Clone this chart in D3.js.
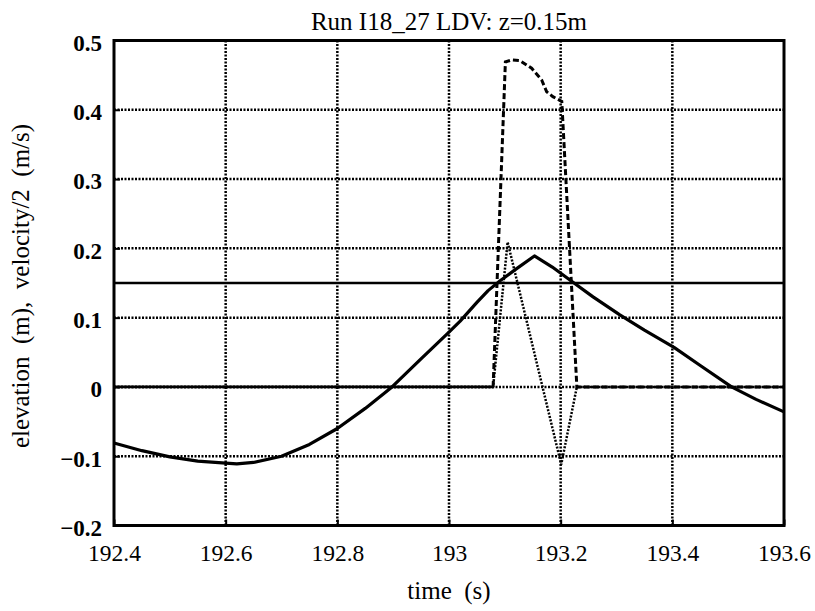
<!DOCTYPE html>
<html>
<head>
<meta charset="utf-8">
<script src="https://cdn.jsdelivr.net/npm/d3@7"></script>
<style>
  html, body { margin: 0; padding: 0; background: #fff; }
  svg { display: block; }
  text { font-family: "Liberation Serif", "DejaVu Serif", serif; fill: #000; }
</style>
</head>
<body>
<svg id="chart" width="815" height="611"></svg>
<script>
// Free-surface elevation (m) against time (s)
const elevTime = [192.40, 192.45, 192.50, 192.55, 192.60, 192.62, 192.65, 192.70, 192.75, 192.80, 192.85, 192.898, 192.948, 193.00, 193.02, 193.05, 193.07, 193.091, 193.118, 193.153, 193.185, 193.219, 193.258, 193.306, 193.35, 193.403, 193.45, 193.506, 193.55, 193.60];
const elevation = [-0.081, -0.092, -0.101, -0.107, -0.110, -0.111, -0.109, -0.100, -0.083, -0.060, -0.031, 0.000, 0.039, 0.079, 0.095, 0.122, 0.139, 0.153, 0.169, 0.189, 0.173, 0.153, 0.130, 0.104, 0.082, 0.057, 0.031, 0.000, -0.018, -0.036];

// Probe level z = 0.15 m
const probeTime = [192.4, 193.6];
const probeLevel = [0.15, 0.15];

// Horizontal velocity / 2 (m/s); zero while the probe is dry
const uTime = [192.40, 193.079, 193.101, 193.113, 193.127, 193.148, 193.166, 193.175, 193.186, 193.202, 193.229, 193.60];
const uHalf = [0.000, 0.000, 0.469, 0.472, 0.471, 0.460, 0.443, 0.426, 0.419, 0.412, 0.000, 0.000];
const uDryCount = 2; // leading samples before the probe is submerged

// Vertical velocity / 2 (m/s)
const wTime = [192.40, 193.079, 193.105, 193.201, 193.229, 193.60];
const wHalf = [0.000, 0.000, 0.209, -0.112, 0.000, 0.000];

// Axis ticks
const xTicks = [192.4, 192.6, 192.8, 193.0, 193.2, 193.4, 193.6];
const xTickLabels = ["192.4", "192.6", "192.8", "193", "193.2", "193.4", "193.6"];
const yTicks = [-0.2, -0.1, 0, 0.1, 0.2, 0.3, 0.4, 0.5];
const yTickLabels = ["\u22120.2", "\u22120.1", "0", "0.1", "0.2", "0.3", "0.4", "0.5"];

const titleText = "Run I18_27 LDV: z=0.15m";
const xLabel = "time  (s)";
const yLabel = "elevation  (m),  velocity/2  (m/s)";

const svg = d3.select("#chart");
const plotL = 114, plotR = 784, plotT = 40.5, plotB = 525.5;

const x = d3.scaleLinear().domain([192.4, 193.6]).range([plotL, plotR]);
const y = d3.scaleLinear().domain([-0.2, 0.5]).range([plotB, plotT]);

// Dotted grid
const grid = svg.append("g");
grid.selectAll("line.gx").data(xTicks.slice(1, -1)).join("line")
  .attr("x1", d => x(d)).attr("x2", d => x(d))
  .attr("y1", plotT).attr("y2", plotB)
  .attr("stroke", "#000").attr("stroke-width", 2.5).attr("stroke-dasharray", "2,1.5");
grid.selectAll("line.gy").data(yTicks.slice(1, -1)).join("line")
  .attr("y1", d => y(d)).attr("y2", d => y(d))
  .attr("x1", plotL).attr("x2", plotR)
  .attr("stroke", "#000").attr("stroke-width", 2.5).attr("stroke-dasharray", "2,1.5");

const line = d3.line().x(d => x(d[0])).y(d => y(d[1]));
const zip = (a, b) => a.map((v, i) => [v, b[i]]);

// Vertical velocity (dotted)
svg.append("path").datum(zip(wTime, wHalf)).attr("d", line)
  .attr("fill", "none").attr("stroke", "#000").attr("stroke-width", 2.5)
  .attr("stroke-dasharray", "2,1.5");

// Horizontal velocity (dashed; the densely sampled dry segment prints solid)
const uPts = zip(uTime, uHalf);
svg.append("path").datum(uPts.slice(0, uDryCount)).attr("d", line)
  .attr("fill", "none").attr("stroke", "#000").attr("stroke-width", 2.8);
svg.append("path").datum(uPts.slice(uDryCount - 1)).attr("d", line)
  .attr("fill", "none").attr("stroke", "#000").attr("stroke-width", 3)
  .attr("stroke-dasharray", "6,3");

// Probe level
svg.append("path").datum(zip(probeTime, probeLevel)).attr("d", line)
  .attr("fill", "none").attr("stroke", "#000").attr("stroke-width", 2.7);

// Elevation
svg.append("path").datum(zip(elevTime, elevation)).attr("d", line)
  .attr("fill", "none").attr("stroke", "#000").attr("stroke-width", 3.2)
  .attr("stroke-linejoin", "round");

// Axes
const xAxis = d3.axisBottom(x).tickValues(xTicks).tickFormat((d, i) => xTickLabels[i])
  .tickSizeInner(-6).tickSizeOuter(0);
const yAxis = d3.axisLeft(y).tickValues(yTicks).tickFormat((d, i) => yTickLabels[i])
  .tickSizeInner(-6).tickSizeOuter(0).tickPadding(12);

const gx = svg.append("g").attr("transform", `translate(0,${plotB})`).call(xAxis);
gx.select(".domain").remove();
gx.selectAll(".tick line").attr("stroke", "#000").attr("stroke-width", 2);
gx.selectAll(".tick text").attr("font-size", 23.5).attr("font-family", "Liberation Serif")
  .attr("y", 35).attr("dy", 0);

const gy = svg.append("g").attr("transform", `translate(${plotL},0)`).call(yAxis);
gy.select(".domain").remove();
gy.selectAll(".tick line").attr("stroke", "#000").attr("stroke-width", 2);
gy.selectAll(".tick text").attr("font-size", 23).attr("font-weight", "bold")
  .attr("font-family", "Liberation Serif").attr("dy", "0.43em");

// Frame
svg.append("rect").attr("x", plotL).attr("y", plotT)
  .attr("width", plotR - plotL).attr("height", plotB - plotT)
  .attr("fill", "none").attr("stroke", "#000").attr("stroke-width", 3);

// Titles
svg.append("text").attr("x", (plotL + plotR) / 2).attr("y", 30)
  .attr("text-anchor", "middle").attr("font-size", 25).text(titleText);
svg.append("text").attr("x", (plotL + plotR) / 2).attr("y", 599)
  .attr("text-anchor", "middle").attr("font-size", 25)
  .style("white-space", "pre").text(xLabel);
svg.append("text").attr("transform", `translate(29,${(plotT + plotB) / 2 + 3}) rotate(-90)`)
  .attr("text-anchor", "middle").attr("font-size", 25)
  .style("white-space", "pre").text(yLabel);
</script>
</body>
</html>
